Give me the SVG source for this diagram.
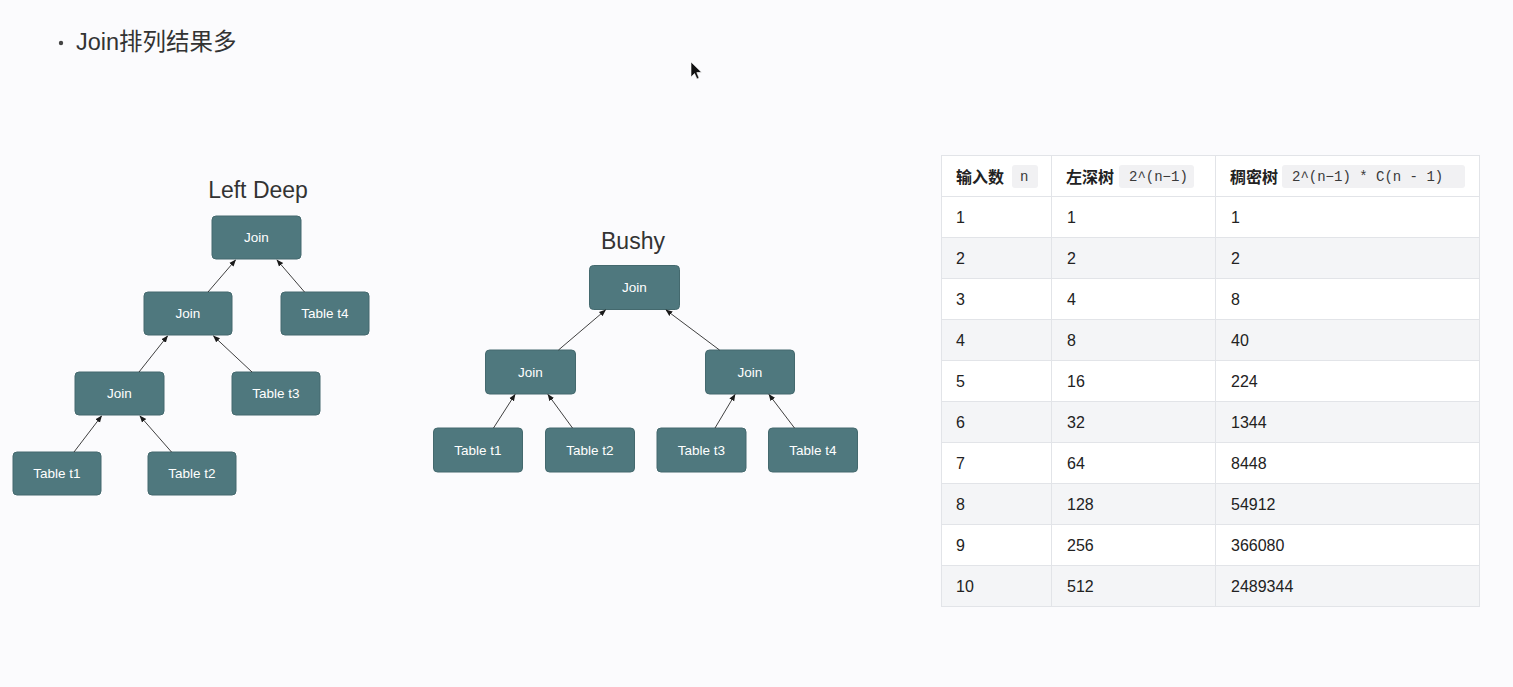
<svg xmlns="http://www.w3.org/2000/svg" width="1513" height="687" viewBox="0 0 1513 687">
  <style>
    .bg { fill: #fbfbfd; }
    .node rect { fill: #4f787e; stroke: #44696e; stroke-width: 1; }
    .node text { fill: #ffffff; font-family: "Liberation Sans", Arial, sans-serif; font-size: 13.5px; text-anchor: middle; dominant-baseline: central; }
    .title { fill: #333333; font-family: "Liberation Sans", Arial, sans-serif; font-size: 23px; text-anchor: middle; }
    .heading { fill: #333333; font-family: "Liberation Sans", "Noto Sans CJK SC", sans-serif; font-size: 23.5px; }
    .edges line { stroke: #2a2a2a; stroke-width: 0.9; marker-end: url(#tip); }
    .cell { fill: #222222; font-family: "Liberation Sans", "Noto Sans CJK SC", sans-serif; font-size: 16px; dominant-baseline: central; }
    .hcell { fill: #222222; font-family: "Noto Sans CJK SC", sans-serif; font-size: 16px; font-weight: 600; dominant-baseline: central; }
    .code { fill: #3a3a3a; font-family: "Liberation Mono", "DejaVu Sans Mono", monospace; font-size: 14px; dominant-baseline: central; }
    .codebg { fill: #f1f1f3; }
    .grid { stroke: #e2e4e8; stroke-width: 1; fill: none; }
  </style>
  <defs>
    <marker id="tip" viewBox="0 0 10 10" refX="9" refY="5" markerWidth="7" markerHeight="7" orient="auto" markerUnits="userSpaceOnUse">
      <path d="M0,1 L10,5 L0,9 z" fill="#1a1a1a"/>
    </marker>
  </defs>

  <rect class="bg" x="0" y="0" width="1513" height="687"/>

  <!-- heading -->
  <circle cx="61" cy="43" r="2.2" fill="#444"/>
  <text class="heading" x="76" y="50">Join排列结果多</text>

  <!-- mouse pointer -->
  <path d="M691,62 L691,77 L694.5,73.5 L697,79 L699,78 L696.8,72.6 L701.5,72.3 Z" fill="#111" stroke="#fff" stroke-width="0.6"/>

  <!-- Left Deep tree -->
  <text class="title" x="258" y="198">Left Deep</text>
  <g id="ld-join1" class="node"><rect x="212" y="216" width="89" height="43" rx="4"/><text x="256.5" y="237.5">Join</text></g>
  <g id="ld-join2" class="node"><rect x="144" y="292" width="88" height="43" rx="4"/><text x="188" y="313.5">Join</text></g>
  <g id="ld-t4" class="node"><rect x="281" y="292" width="88" height="43" rx="4"/><text x="325" y="313.5">Table t4</text></g>
  <g id="ld-join3" class="node"><rect x="75" y="372" width="89" height="43" rx="4"/><text x="119.5" y="393.5">Join</text></g>
  <g id="ld-t3" class="node"><rect x="232" y="372" width="88" height="43" rx="4"/><text x="276" y="393.5">Table t3</text></g>
  <g id="ld-t1" class="node"><rect x="13" y="452" width="88" height="43" rx="4"/><text x="57" y="473.5">Table t1</text></g>
  <g id="ld-t2" class="node"><rect x="148" y="452" width="88" height="43" rx="4"/><text x="192" y="473.5">Table t2</text></g>

  <!-- Bushy tree -->
  <text class="title" x="633" y="249">Bushy</text>
  <g id="b-join1" class="node"><rect x="589.5" y="265.5" width="90" height="44" rx="4"/><text x="634.5" y="287.5">Join</text></g>
  <g id="b-joinl" class="node"><rect x="485.5" y="350" width="90" height="44" rx="4"/><text x="530.5" y="372">Join</text></g>
  <g id="b-joinr" class="node"><rect x="705.5" y="350" width="89" height="44" rx="4"/><text x="750" y="372">Join</text></g>
  <g id="b-t1" class="node"><rect x="433.5" y="428" width="89" height="44" rx="4"/><text x="478" y="450">Table t1</text></g>
  <g id="b-t2" class="node"><rect x="545.5" y="428" width="89" height="44" rx="4"/><text x="590" y="450">Table t2</text></g>
  <g id="b-t3" class="node"><rect x="657" y="428" width="89" height="44" rx="4"/><text x="701.5" y="450">Table t3</text></g>
  <g id="b-t4" class="node"><rect x="768.5" y="428" width="89" height="44" rx="4"/><text x="813" y="450">Table t4</text></g>

  <!-- connectors -->
  <g id="edges" class="edges">
    <line x1="208" y1="292" x2="235.5" y2="260"/>
    <line x1="304.5" y1="292" x2="277" y2="260"/>
    <line x1="139" y1="372" x2="167.5" y2="336"/>
    <line x1="252" y1="372" x2="213.5" y2="336"/>
    <line x1="74" y1="452" x2="101.5" y2="416"/>
    <line x1="171.5" y1="452" x2="140" y2="416"/>

    <line x1="558.5" y1="350" x2="605.5" y2="310"/>
    <line x1="719.5" y1="350" x2="666" y2="310"/>
    <line x1="493.5" y1="428" x2="515" y2="394.5"/>
    <line x1="572.5" y1="428" x2="548" y2="394.5"/>
    <line x1="715" y1="428" x2="735" y2="394.5"/>
    <line x1="794.5" y1="428" x2="769" y2="394.5"/>
  </g>

  <!-- table -->
  <g id="table">
    <rect x="941.5" y="155.5" width="538" height="451" fill="#ffffff"/>
    <rect x="941.5" y="237" width="538" height="41" fill="#f4f5f7"/>
    <rect x="941.5" y="319" width="538" height="41" fill="#f4f5f7"/>
    <rect x="941.5" y="401" width="538" height="41" fill="#f4f5f7"/>
    <rect x="941.5" y="483" width="538" height="41" fill="#f4f5f7"/>
    <rect x="941.5" y="565" width="538" height="41" fill="#f4f5f7"/>

    <rect class="grid" x="941.5" y="155.5" width="538" height="451"/>
    <path class="grid" d="M941.5,196.5 H1479.5 M941.5,237.5 H1479.5 M941.5,278.5 H1479.5 M941.5,319.5 H1479.5 M941.5,360.5 H1479.5 M941.5,401.5 H1479.5 M941.5,442.5 H1479.5 M941.5,483.5 H1479.5 M941.5,524.5 H1479.5 M941.5,565.5 H1479.5 M1051.5,155.5 V606.5 M1215.5,155.5 V606.5"/>

    <!-- header -->
    <text class="hcell" x="956" y="176">输入数</text>
    <rect class="codebg" x="1012" y="165" width="26" height="23" rx="3"/>
    <text class="code" x="1020" y="176.5">n</text>
    <text class="hcell" x="1066" y="176">左深树</text>
    <rect class="codebg" x="1119" y="165" width="75" height="23" rx="3"/>
    <text class="code" x="1129" y="176.5">2^(n−1)</text>
    <text class="hcell" x="1230" y="176">稠密树</text>
    <rect class="codebg" x="1282" y="165" width="183" height="23" rx="3"/>
    <text class="code" x="1292" y="176.5">2^(n−1) * C(n - 1)</text>

    <!-- rows -->
    <text class="cell" x="956" y="217">1</text><text class="cell" x="1067" y="217">1</text><text class="cell" x="1231" y="217">1</text>
    <text class="cell" x="956" y="258">2</text><text class="cell" x="1067" y="258">2</text><text class="cell" x="1231" y="258">2</text>
    <text class="cell" x="956" y="299">3</text><text class="cell" x="1067" y="299">4</text><text class="cell" x="1231" y="299">8</text>
    <text class="cell" x="956" y="340">4</text><text class="cell" x="1067" y="340">8</text><text class="cell" x="1231" y="340">40</text>
    <text class="cell" x="956" y="381">5</text><text class="cell" x="1067" y="381">16</text><text class="cell" x="1231" y="381">224</text>
    <text class="cell" x="956" y="422">6</text><text class="cell" x="1067" y="422">32</text><text class="cell" x="1231" y="422">1344</text>
    <text class="cell" x="956" y="463">7</text><text class="cell" x="1067" y="463">64</text><text class="cell" x="1231" y="463">8448</text>
    <text class="cell" x="956" y="504">8</text><text class="cell" x="1067" y="504">128</text><text class="cell" x="1231" y="504">54912</text>
    <text class="cell" x="956" y="545">9</text><text class="cell" x="1067" y="545">256</text><text class="cell" x="1231" y="545">366080</text>
    <text class="cell" x="956" y="586">10</text><text class="cell" x="1067" y="586">512</text><text class="cell" x="1231" y="586">2489344</text>
  </g>
</svg>
